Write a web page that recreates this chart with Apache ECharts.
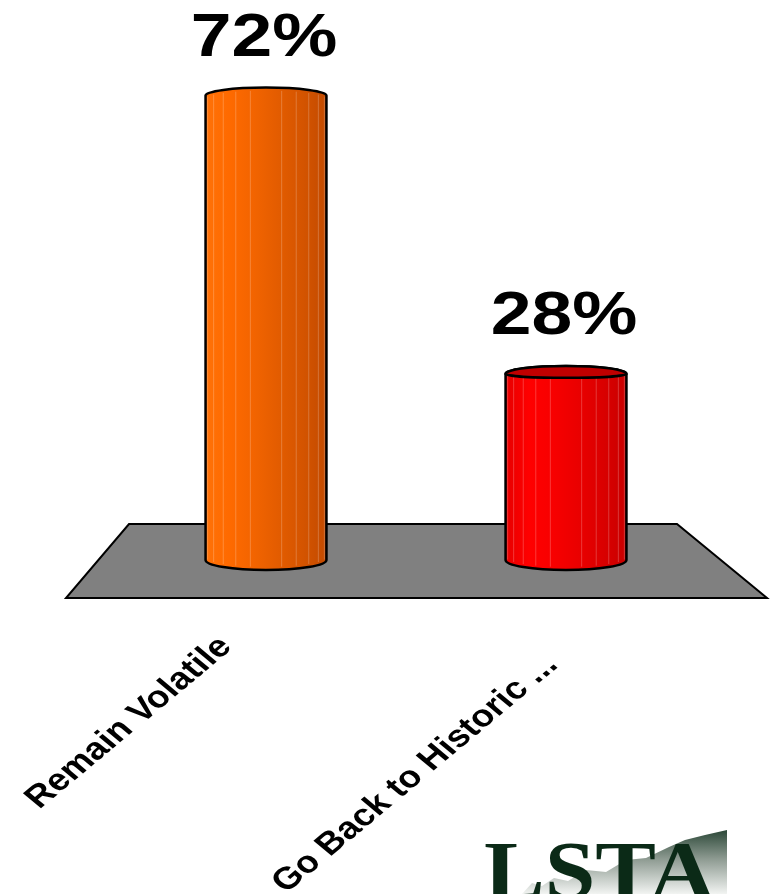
<!DOCTYPE html>
<html>
<head>
<meta charset="utf-8">
<script src="https://cdn.jsdelivr.net/npm/echarts@6/dist/echarts.min.js"></script>
<style>
  html, body { margin: 0; padding: 0; background: #ffffff; }
  #chart { width: 771px; height: 894px; }
</style>
</head>
<body>
<div id="chart"></div>
<script>
// ---- data ----
const categories = ['Remain Volatile', 'Go Back to Historic ...'];
const values = [72, 28];
const valueSuffix = '%';

// ---- layout / style ----
const GRID = { left: 116, right: 55, top: 45, bottom: 343 };
const Y_MAX = 80;
const STRETCH = 1.2;          // original picture is stretched horizontally
const BAR_RATIO = 0.403;      // cylinder width / category band
const palettes = [
  { stops: ['#ff7208', '#ff6a00', '#f26400', '#e35c00', '#d45400', '#c24a00'], cap: '#c44c00' },
  { stops: ['#e60000', '#ff0000', '#f70000', '#ea0000', '#da0000', '#c80000'], cap: '#c00000' }
];
const labelNudge = [[-40, 91], [-14, 109]];   // axis label right-end offsets from category centre / zero line
const EYE_Y = 330;

function renderCylinder(params, api) {
  const i = params.dataIndex;
  const v = api.value(1);
  const top = api.coord([api.value(0), v]);
  const base = api.coord([api.value(0), 0]);
  const band = api.size([1, 0])[0];
  const r = band * BAR_RATIO / 2;
  const cx = top[0];
  const x0 = cx - r, x1 = cx + r;
  const yTop = top[1];
  const yBot = base[1] + 9;
  const ryT = 8, ryB = 10;
  const pal = palettes[i % palettes.length];
  const gStops = pal.stops.map((c, k) => ({ offset: k / (pal.stops.length - 1), color: c }));

  const children = [];
  children.push({
    type: 'path',
    shape: {
      pathData: `M${x0} ${yTop} A${r} ${ryT} 0 0 1 ${x1} ${yTop} L${x1} ${yBot} A${r} ${ryB} 0 0 1 ${x0} ${yBot} Z`
    },
    style: {
      fill: new echarts.graphic.LinearGradient(0, 0, 1, 0, gStops),
      stroke: '#000', lineWidth: 2.5, lineJoin: 'round'
    }
  });
  for (let k = 1; k < 12; k++) {
    if (k === 6) continue;
    const th = Math.PI * k / 12;
    const fx = cx - r * Math.cos(th);
    const dy = ryB * Math.sin(th);
    children.push({
      type: 'line',
      shape: { x1: fx, y1: yTop - ryT * Math.sin(th) + 3, x2: fx, y2: yBot + dy - 3 },
      style: { stroke: 'rgba(255,255,255,0.22)', lineWidth: 1 }
    });
  }
  const ryF = Math.max(0, Math.min(6, (yTop - EYE_Y) * 0.09));
  if (ryF > 0.5) {
    children.push({
      type: 'path',
      shape: {
        pathData: `M${x0} ${yTop} A${r} ${ryT} 0 0 1 ${x1} ${yTop} A${r} ${ryF} 0 0 1 ${x0} ${yTop} Z`
      },
      style: { fill: pal.cap, stroke: '#000', lineWidth: 2.5, lineJoin: 'round' }
    });
  }
  children.push({
    type: 'text',
    x: cx - 2,
    y: yTop - 26,
    scaleX: STRETCH,
    style: {
      text: v + valueSuffix,
      font: 'bold 61px "Liberation Sans", Arial, sans-serif',
      fill: '#000',
      align: 'center',
      verticalAlign: 'bottom'
    }
  });
  const nudge = labelNudge[i] || [-30, 100];
  children.push({
    type: 'group',
    x: cx + nudge[0],
    y: base[1] + nudge[1],
    scaleX: STRETCH,
    children: [{
      type: 'text',
      rotation: Math.PI / 4,
      style: {
        text: categories[i],
        font: 'bold 31px "Liberation Sans", Arial, sans-serif',
        fill: '#000',
        align: 'right',
        verticalAlign: 'middle'
      }
    }]
  });
  return { type: 'group', children };
}

const chart = echarts.init(document.getElementById('chart'), null, { renderer: 'canvas' });

const W = 771, H = 894;
const gx0 = GRID.left, gx1 = W - GRID.right;
const zeroY = H - GRID.bottom;
const floorPts = [
  [gx0 + 13, zeroY - 27], [gx1 - 39, zeroY - 27],
  [gx1 + 51, zeroY + 47], [gx0 - 50, zeroY + 47]
];

const logo = {
  type: 'group',
  left: 484, top: 830,
  children: [
    {
      type: 'polygon',
      shape: { points: [[36, 64], [46, 53], [56, 56], [68, 48], [82, 51], [100, 40], [120, 42], [140, 30], [160, 28], [183, 17], [199, 10], [219, 5], [241, 0], [241, 64]] },
      style: {
        fill: new echarts.graphic.LinearGradient(0, 0, 0, 1, [
          { offset: 0, color: '#2c4838' }, { offset: 0.45, color: '#8d9a91' }, { offset: 1, color: '#f2f4f2' }
        ])
      }
    },
    {
      type: 'text',
      x: -2, y: 6,
      scaleX: 1.11,
      style: {
        text: 'LSTA',
        font: 'bold 82px "Liberation Serif", "Times New Roman", serif',
        fill: '#0b2a17',
        align: 'left',
        verticalAlign: 'top'
      }
    }
  ]
};

chart.setOption({
  backgroundColor: '#ffffff',
  animation: false,
  grid: { left: GRID.left, right: GRID.right, top: GRID.top, bottom: GRID.bottom, containLabel: false, outerBoundsMode: 'none' },
  xAxis: { type: 'category', data: categories, show: false },
  yAxis: { type: 'value', min: 0, max: Y_MAX, show: false },
  graphic: [
    {
      type: 'polygon', z: -1,
      shape: { points: floorPts },
      style: { fill: '#808080', stroke: '#000', lineWidth: 2, lineJoin: 'miter' }
    },
    logo
  ],
  series: [{
    type: 'custom',
    clip: false,
    renderItem: renderCylinder,
    data: values.map((v, i) => [i, v]),
    encode: { x: 0, y: 1 },
    z: 5
  }]
});
</script>
</body>
</html>
